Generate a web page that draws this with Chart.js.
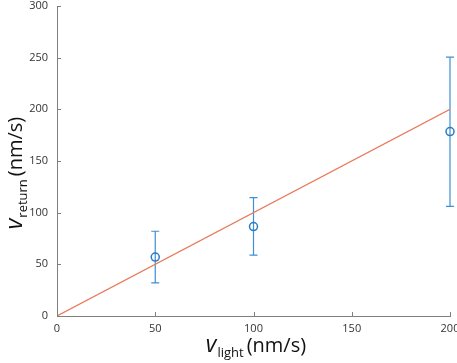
<!DOCTYPE html>
<html>
<head>
<meta charset="utf-8">
<script src="https://cdn.jsdelivr.net/npm/chart.js@4"></script>
<style>
    html, body { margin: 0; padding: 0; background: #ffffff; }
    #wrap { width: 457px; height: 363px; }
</style>
</head>
<body>
<div id="wrap"><canvas id="chart"></canvas></div>
<script>
// measured points (x = v_light, y = v_return), with error bar ends
const lightSpeeds = [50, 100, 200];
const returnSpeeds = [57, 86.5, 178.5];
const errLow = [32, 59, 106];
const errHigh = [82, 114.5, 250.5];

// reference line y = x
const refX = [0, 200];
const refY = [0, 200];

const xTicks = [0, 50, 100, 150, 200];
const yTicks = [0, 50, 100, 150, 200, 250, 300];

const axisColor = '#7f7f7f';
const textColor = '#333333';
const fontFamily = '"Open Sans", "Noto Sans", sans-serif';

// error bars drawn below the markers
const errorBars = {
    id: 'errorBars',
    beforeDatasetsDraw(chart) {
        const ctx = chart.ctx;
        const xs = chart.scales.x;
        const ys = chart.scales.y;
        ctx.save();
        ctx.strokeStyle = '#3f8fd2';
        ctx.lineWidth = 1.2;
        lightSpeeds.forEach((v, i) => {
            const px = xs.getPixelForValue(v);
            const top = ys.getPixelForValue(errHigh[i]);
            const bot = ys.getPixelForValue(errLow[i]);
            ctx.beginPath();
            ctx.moveTo(px, top);
            ctx.lineTo(px, bot);
            ctx.moveTo(px - 4, top);
            ctx.lineTo(px + 4, top);
            ctx.moveTo(px - 4, bot);
            ctx.lineTo(px + 4, bot);
            ctx.stroke();
        });
        ctx.restore();
    }
};

// inward tick marks and axis titles
const axisDecor = {
    id: 'axisDecor',
    afterDraw(chart) {
        const ctx = chart.ctx;
        const xs = chart.scales.x;
        const ys = chart.scales.y;
        const area = chart.chartArea;
        ctx.save();
        ctx.strokeStyle = axisColor;
        ctx.lineWidth = 1;
        xTicks.forEach(t => {
            const px = Math.round(xs.getPixelForValue(t)) + 0.5;
            ctx.beginPath();
            ctx.moveTo(px, area.bottom);
            ctx.lineTo(px, area.bottom - 4);
            ctx.stroke();
        });
        yTicks.forEach(t => {
            const py = Math.round(ys.getPixelForValue(t)) + 0.5;
            ctx.beginPath();
            ctx.moveTo(area.left, py);
            ctx.lineTo(area.left + 4, py);
            ctx.stroke();
        });

        // axis titles: italic v with subscript, then units
        ctx.fillStyle = '#111111';
        ctx.textBaseline = 'alphabetic';
        const drawTitle = (sub, cx, baseline) => {
            const vFont = 'italic 23px ' + fontFamily;
            const subFont = '13px ' + fontFamily;
            const unitFont = '20px ' + fontFamily;
            ctx.font = vFont;
            const wV = ctx.measureText('v').width;
            ctx.font = subFont;
            const wS = ctx.measureText(sub).width;
            ctx.font = unitFont;
            const wU = ctx.measureText('(nm/s)').width;
            const total = wV + 1 + wS + 3 + wU;
            let x = cx - total / 2;
            ctx.textAlign = 'left';
            ctx.font = vFont;
            ctx.fillText('v', x, baseline);
            x += wV + 1;
            ctx.font = subFont;
            ctx.fillText(sub, x, baseline + 5);
            x += wS + 3;
            ctx.font = unitFont;
            ctx.fillText('(nm/s)', x, baseline);
        };
        drawTitle('light', 256, 352);
        ctx.save();
        ctx.translate(22, 173);
        ctx.rotate(-Math.PI / 2);
        drawTitle('return', 0, 0);
        ctx.restore();
        ctx.restore();
    }
};

new Chart(document.getElementById('chart'), {
    data: {
        datasets: [
            {
                type: 'line',
                data: refX.map((x, i) => ({ x: x, y: refY[i] })),
                borderColor: '#e8795a',
                borderWidth: 1.2,
                pointRadius: 0,
                fill: false,
                order: 0
            },
            {
                type: 'scatter',
                data: lightSpeeds.map((x, i) => ({ x: x, y: returnSpeeds[i] })),
                borderColor: '#2a7cc4',
                backgroundColor: 'rgba(0,0,0,0)',
                borderWidth: 1.5,
                pointRadius: 4,
                clip: false,
                order: 1
            }
        ]
    },
    options: {
        responsive: true,
        maintainAspectRatio: false,
        animation: false,
        events: [],
        layout: { padding: { top: 6, right: 7, left: 0, bottom: 0 } },
        plugins: {
            legend: { display: false },
            tooltip: { enabled: false }
        },
        scales: {
            x: {
                type: 'linear',
                min: 0,
                max: 200,
                afterBuildTicks: scale => { scale.ticks = xTicks.map(v => ({ value: v })); },
                afterFit: scale => {
                    scale.height = 47;
                    scale.paddingLeft = 0;
                    scale.paddingRight = 0;
                },
                grid: { display: false, drawTicks: false },
                border: { display: true, color: axisColor, width: 1 },
                ticks: {
                    padding: 6,
                    maxRotation: 0,
                    color: textColor,
                    font: { size: 11, family: fontFamily }
                }
            },
            y: {
                type: 'linear',
                min: 0,
                max: 300,
                afterBuildTicks: scale => { scale.ticks = yTicks.map(v => ({ value: v })); },
                afterFit: scale => {
                    scale.width = 57;
                    scale.paddingTop = 0;
                    scale.paddingBottom = 0;
                },
                grid: { display: false, drawTicks: false },
                border: { display: true, color: axisColor, width: 1 },
                ticks: {
                    padding: 9,
                    color: textColor,
                    font: { size: 11, family: fontFamily }
                }
            }
        }
    },
    plugins: [errorBars, axisDecor]
});
</script>
</body>
</html>
